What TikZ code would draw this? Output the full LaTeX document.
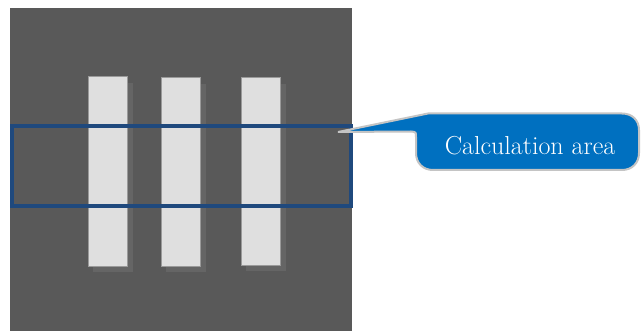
\documentclass[tikz,border=0pt]{standalone}
\begin{document}
\begin{tikzpicture}[x=1pt,y=-1pt,
  bar/.style={fill=barfill,draw=barline,line width=1pt},
  shade/.style={fill=shadowgray,draw=none}]
\definecolor{bg}{HTML}{595959}
\definecolor{barfill}{HTML}{DFDFDF}
\definecolor{barline}{HTML}{9A9A9A}
\definecolor{shadowgray}{HTML}{656565}
\definecolor{frameblue}{HTML}{1F497D}
\definecolor{callblue}{HTML}{0070C0}
\definecolor{callline}{HTML}{C4C4C4}
\useasboundingbox (0,0) rectangle (641,331);
\fill[white] (0,0) rectangle (641,331);
\fill[bg] (10,8) rectangle (352,331);
% shadows
\fill[shade] (93,83) rectangle (133,272);
\fill[shade] (166,84) rectangle (206,272);
\fill[shade] (246,84) rectangle (286,271);
% bars
\draw[bar] (88,77) rectangle (127,267);
\draw[bar] (161,78) rectangle (200,267);
\draw[bar] (241,78) rectangle (280,266);
% calculation frame
\draw[frameblue,line width=4.5pt] (12,126) rectangle (351,206);
% callout
\draw[fill=callblue,draw=callline,line width=2pt]
  (338,132) -- (428,113.5) -- (622,113.5) .. controls (632,113.5) and (639,120) .. (639,130)
  -- (639,153) .. controls (639,163) and (632,170) .. (622,170) -- (433,170)
  .. controls (423,170) and (416,163) .. (416,153) -- (416,137) .. controls (416,132) .. (411,131.5) -- cycle;
\node[text=white,font=\fontsize{26}{30}\selectfont,inner sep=0pt] (lbl) at (530,146) {Calculation area};
\end{tikzpicture}
\end{document}
